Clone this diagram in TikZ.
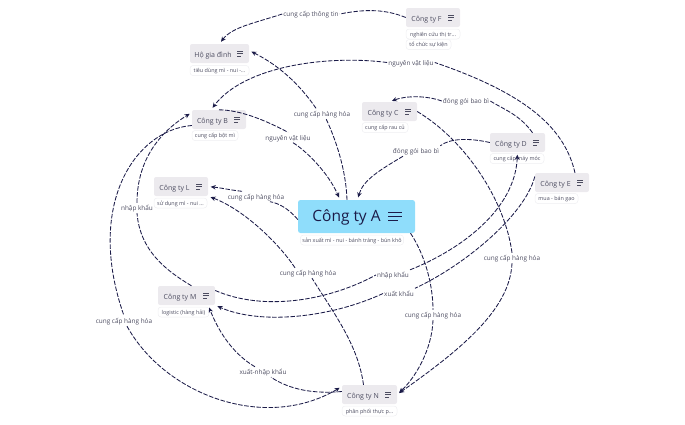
\documentclass[tikz,border=0pt]{standalone}
\usepackage{fontspec}
\setmainfont{Open Sans}
\usepackage{tikz}
\usetikzlibrary{arrows.meta}
\definecolor{boxgray}{HTML}{ECEAEE}
\definecolor{boxblue}{HTML}{8FDDFB}
\definecolor{inkblue}{HTML}{1B1B48}
\definecolor{textgray}{HTML}{4C4C60}
\definecolor{edgegray}{HTML}{EFEFF2}
\tikzstyle{link} = [inkblue,line width=0.85pt,dash pattern=on 4.5pt off 1.6pt]
\tikzstyle{arrow} = [link,-{Stealth[length=5pt,width=4.5pt]},shorten >=2.5pt]
\tikzstyle{company} = [fill=boxgray,rounded corners=2pt,minimum height=19pt,inner sep=0pt,text height=9pt,text depth=2pt,text=textgray,font=\fontsize{7}{8}\selectfont]
\tikzstyle{mainbox} = [fill=boxblue,rounded corners=2.5pt,minimum width=117pt,minimum height=33pt,inner sep=0pt,text height=13pt,text depth=3pt,text=inkblue,font=\fontsize{15.5}{18}\selectfont]
\tikzstyle{topic} = [draw=edgegray,fill=white,rounded corners=3pt,minimum height=9.5pt,inner sep=2pt,text height=5pt,text depth=1pt,line width=0.5pt,text=textgray,font=\fontsize{5.4}{6}\selectfont]
\tikzstyle{edgelabel} = [inner sep=1pt,text height=6.5pt,text depth=1.5pt,text=textgray,font=\fontsize{6.4}{8}\selectfont]
\newcommand{\menuicon}[4]{
	\draw[#4] ([xshift=-#2pt,yshift=#3pt]#1.east) -- ++(#2-#2*0.5,0);
	\draw[#4] ([xshift=-#2pt]#1.east) -- ++(#2-#2*0.5,0);
	\draw[#4] ([xshift=-#2pt,yshift=-#3pt]#1.east) -- ++(#2*0.35,0);
}

\begin{document}
\begin{tikzpicture}[x=1pt,y=-1pt]
	\useasboundingbox (0,0) rectangle (685,424);
	% companies
	\node[mainbox] (ctyA) at (356.5,216.5) {Công ty A\kern20pt};
	\node[company,minimum width=54pt] (ctyF) at (433,17.5) {Công ty F\kern13pt};
	\node[company,minimum width=59pt] (hoGD) at (219.5,53.5) {Hộ gia đình\kern13pt};
	\node[company,minimum width=54pt] (ctyB) at (219,119.5) {Công ty B\kern13pt};
	\node[company,minimum width=55pt] (ctyC) at (389.5,111.5) {Công ty C\kern13pt};
	\node[company,minimum width=55pt] (ctyD) at (517.5,142.5) {Công ty D\kern13pt};
	\node[company,minimum width=54pt] (ctyE) at (562,182.5) {Công ty E\kern13pt};
	\node[company,minimum width=54pt] (ctyL) at (181,186.5) {Công ty L\kern13pt};
	\node[company,minimum width=57pt] (ctyM) at (186.5,295.5) {Công ty M\kern13pt};
	\node[company,minimum width=55pt] (ctyN) at (369.5,394.5) {Công ty N\kern13pt};
	\menuicon{ctyA}{27}{4}{inkblue,line width=1.2pt}
	\foreach \n in {ctyF,hoGD,ctyB,ctyC,ctyD,ctyE,ctyL,ctyM,ctyN} {\menuicon{\n}{12}{2.4}{textgray,line width=0.6pt}}
	% topics
	\node[topic] (topA) at (352,240) {sản xuất mì - nui - bánh tráng - bún khô};
	\node[topic,minimum width=54pt] (topF) at (433,34) {nghiên cứu thị tr...};
	\node[topic,minimum width=45pt] (topG) at (428.5,44.5) {tổ chức sự kiện};
	\node[topic,minimum width=59pt] (topH) at (219.5,70.5) {tiêu dùng mì - nui -...};
	\node[topic,minimum width=46pt] (topB) at (215,135.5) {cung cấp bột mì};
	\node[topic,minimum width=46pt] (topC) at (385,127.5) {cung cấp rau củ};
	\node[topic,minimum width=54pt] (topD) at (517,158.5) {cung cấp máy móc};
	\node[topic,minimum width=43pt] (topE) at (556.5,198.5) {mua - bán gạo};
	\node[topic,minimum width=53pt] (topL) at (180.5,203) {sử dụng mì - nui ...};
	\node[topic,minimum width=51pt] (topM) at (183.5,312) {logistic (hàng hải)};
	\node[topic,minimum width=55pt] (topN) at (369.5,411) {phân phối thực p...};
	% connector labels
	\node[edgelabel] (lblFH) at (311,14) {cung cấp thông tin};
	\node[edgelabel] (lblAH) at (322,113.5) {cung cấp hàng hóa};
	\node[edgelabel] (lblBA) at (288,137.5) {nguyên vật liệu};
	\node[edgelabel] (lblEB) at (411,62.5) {nguyên vật liệu};
	\node[edgelabel] (lblDC) at (466,101) {đóng gói bao bì};
	\node[edgelabel] (lblDA) at (416,151) {đóng gói bao bì};
	\node[edgelabel] (lblAL) at (256,196.5) {cung cấp hàng hóa};
	\node[edgelabel] (lblNL) at (308,273) {cung cấp hàng hóa};
	\node[edgelabel] (lblCN) at (512,258) {cung cấp hàng hóa};
	\node[edgelabel] (lblAN) at (433,315) {cung cấp hàng hóa};
	\node[edgelabel] (lblMD) at (393,275) {nhập khẩu};
	\node[edgelabel] (lblEM) at (399,293.5) {xuất khẩu};
	\node[edgelabel] (lblMB) at (137,208) {nhập khẩu};
	\node[edgelabel] (lblBN) at (124,321) {cung cấp hàng hóa};
	\node[edgelabel] (lblNM) at (263,372) {xuất-nhập khẩu};
	% connectors
	\draw[link] (ctyF.west) .. controls (385,9) and (365,9) .. (lblFH.east);
	\draw[arrow] (lblFH.west) .. controls (255,23) and (232,27) .. (hoGD.north);
	\draw[link] ([xshift=-9.5pt]ctyA.north) .. controls (346,170) and (336,140) .. ([xshift=4pt]lblAH.south);
	\draw[arrow] ([xshift=-6pt]lblAH.north) .. controls (300,85) and (280,66) .. ([yshift=3pt]hoGD.east);
	\draw[link] (ctyB.north) .. controls (240,110) and (265,120) .. (lblBA.north);
	\draw[arrow] ([xshift=5pt]lblBA.south) .. controls (305,150) and (328,172) .. ([xshift=-16.5pt]ctyA.north);
	\draw[link] (ctyD.west) .. controls (470,138) and (450,138) .. (lblDA.north east);
	\draw[arrow] ([xshift=-13pt]lblDA.south) .. controls (380,170) and (363,180) .. ([xshift=1pt]ctyA.north);
	\draw[link] ([xshift=15pt]ctyD.north) .. controls (520,115) and (505,110) .. (lblDC.east);
	\draw[arrow] (lblDC.west) .. controls (425,95) and (405,96) .. (ctyC.north);
	\draw[link] ([xshift=13pt]ctyE.north) .. controls (565,130) and (530,95) .. (lblEB.east);
	\draw[arrow] (lblEB.west) .. controls (330,55) and (245,65) .. ([xshift=-8pt]ctyB.north);
	\draw[link] (ctyC.east) .. controls (465,140) and (505,200) .. (lblCN.north);
	\draw[arrow] (lblCN.south) .. controls (510,310) and (460,350) .. (ctyN.east);
	\draw[link] ([xshift=54pt]ctyA.south) .. controls (425,255) and (433,285) .. (lblAN.north);
	\draw[arrow] (lblAN.south) .. controls (432,350) and (415,378) .. (ctyN.east);
	\draw[link] ([yshift=6pt]ctyE.west) .. controls (525,215) and (465,265) .. (lblEM.north east);
	\draw[arrow] (lblEM.west) .. controls (330,318) and (260,325) .. (ctyM.south east);
	\draw[link] ([yshift=5pt]ctyM.east) .. controls (265,312) and (330,300) .. (lblMD.west);
	\draw[arrow] (lblMD.north east) .. controls (460,250) and (515,210) .. (ctyD.south);
	\draw[link] ([yshift=-3pt]ctyA.west) .. controls (288,208) and (278,203) .. ([xshift=14pt]lblAL.south);
	\draw[arrow] ([xshift=-14pt]lblAL.north) .. controls (230,190) and (222,188) .. (ctyL.east);
	\draw[link] ([xshift=-6pt]ctyN.north) .. controls (358,345) and (335,315) .. ([xshift=4pt]lblNL.south);
	\draw[arrow] ([xshift=-13pt]lblNL.north) .. controls (280,245) and (245,210) .. (ctyL.south east);
	\draw[link] ([yshift=3pt]ctyN.west) .. controls (315,394) and (290,390) .. ([xshift=8pt]lblNM.south);
	\draw[arrow] ([xshift=-8pt]lblNM.north) .. controls (235,355) and (220,335) .. ([xshift=-7pt]ctyM.south east);
	\draw[link] ([xshift=5pt]ctyM.north) .. controls (165,270) and (140,250) .. (lblMB.south);
	\draw[arrow] (lblMB.north) .. controls (137,165) and (155,135) .. ([yshift=7pt]ctyB.west);
	\draw[link] ([yshift=-6pt]ctyB.west) .. controls (135,130) and (85,205) .. (lblBN.north);
	\draw[arrow] ([xshift=3pt]lblBN.south) .. controls (165,395) and (265,432) .. ([yshift=8pt]ctyN.west);
\end{tikzpicture}
\end{document}
